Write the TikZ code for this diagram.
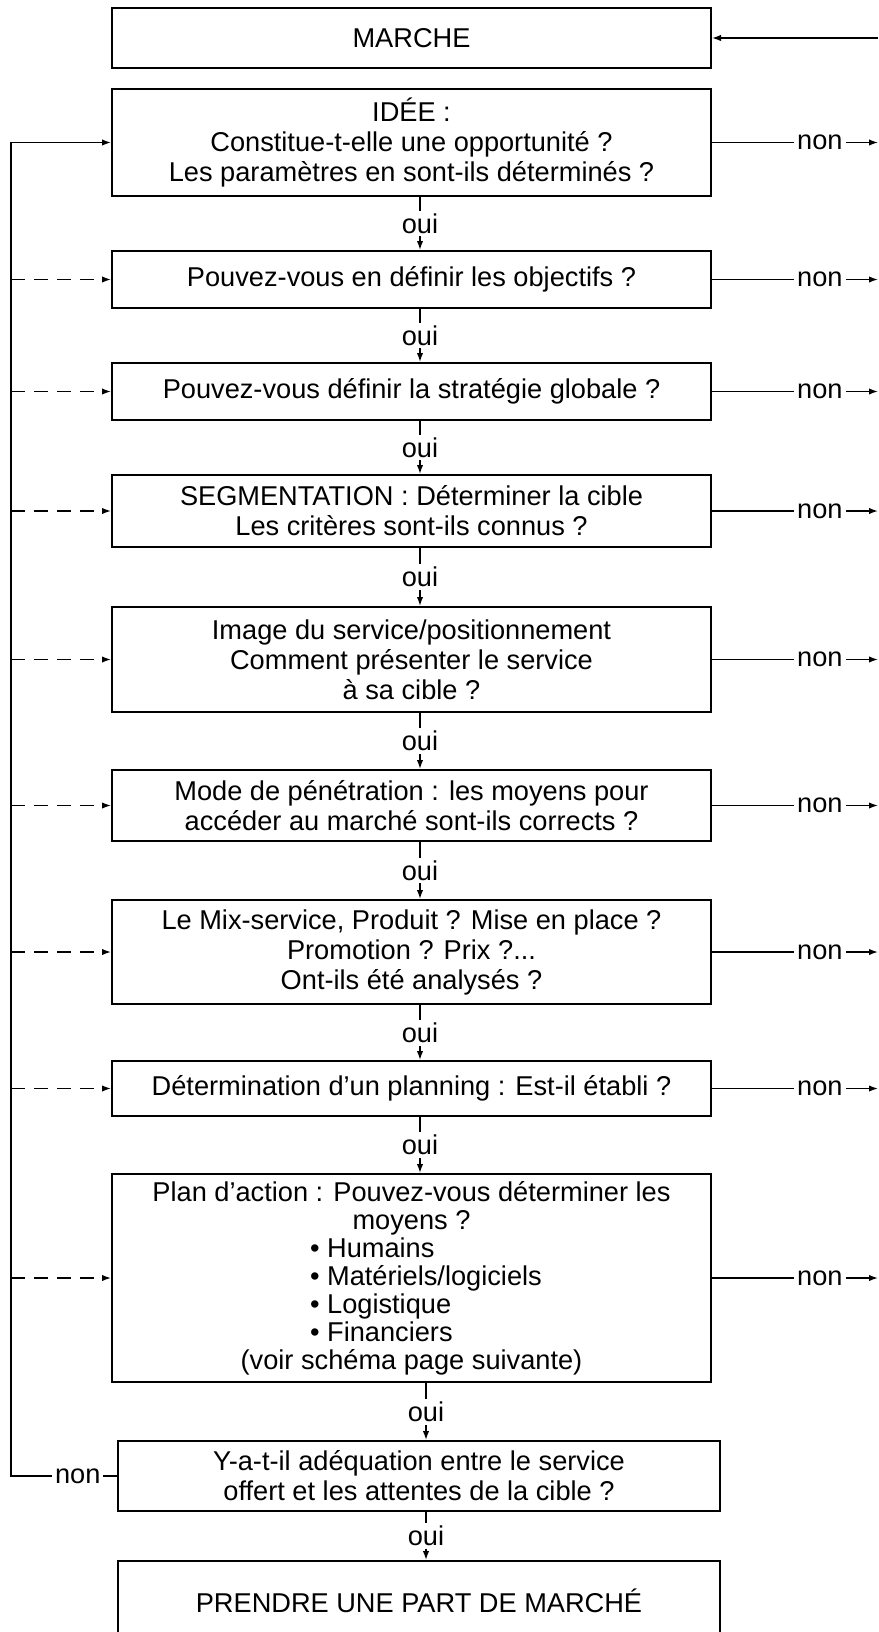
\documentclass[tikz,border=0pt]{standalone}
\usepackage{fontspec}
\setmainfont{Liberation Sans}
\usetikzlibrary{arrows.meta}
\begin{document}
\begin{tikzpicture}[x=0.5pt,y=-0.5pt,
  txt/.style={font=\fontsize{13.6}{15}\selectfont},
  box/.style={txt,draw,line width=1pt,minimum width=299.5pt,inner sep=0pt,align=center},
  flow/.style={line width=0.7pt,-{Latex[length=4.5pt,width=3.2pt]}},
  back/.style={flow,dash pattern=on 7pt off 4.5pt},
  lbl/.style={txt,fill=white,inner sep=1.5pt}]
\useasboundingbox (0,0) rectangle (878,1632);

% side rails and the axis of the "oui" links
\coordinate (L) at (11,0);
\coordinate (R) at (878,0);
\coordinate (A) at (420,0);
\coordinate (B) at (426,0);

% decision boxes
\node[box,minimum height=30pt]   (marche) at (411.5,38)    {MARCHE};
\node[box,minimum height=53.5pt] (idee)   at (411.5,142.5) {IDÉE :\\Constitue-t-elle une opportunité ?\\Les paramètres en sont-ils déterminés ?};
\node[box,minimum height=28.5pt] (obj)    at (411.5,279.5) {Pouvez-vous en définir les objectifs ?};
\node[box,minimum height=28.5pt] (strat)  at (411.5,391.5) {Pouvez-vous définir la stratégie globale ?};
\node[box,minimum height=36pt]   (seg)    at (411.5,511)   {SEGMENTATION : Déterminer la cible\\Les critères sont-ils connus ?};
\node[box,minimum height=52.5pt] (img)    at (411.5,659.5) {Image du service/positionnement\\Comment présenter le service\\à sa cible ?};
\node[box,minimum height=35.5pt] (mode)   at (411.5,805.5) {Mode de pénétration : les moyens pour\\accéder au marché sont-ils corrects ?};
\node[box,minimum height=52pt]   (mix)    at (411.5,952)   {Le Mix-service, Produit ? Mise en place ?\\Promotion ? Prix ?...\\Ont-ils été analysés ?};
\node[box,minimum height=27.5pt] (plan)   at (411.5,1088.5){Détermination d'un planning : Est-il établi ?};
\node[box,minimum height=104pt,font=\fontsize{13.6}{14}\selectfont] (action) at (411.5,1278)
  {Plan d'action : Pouvez-vous déterminer les\\moyens ?\\
  \makebox[116pt][l]{\hspace{7.3pt}• Humains}\\
  \makebox[116pt][l]{\hspace{7.3pt}• Matériels/logiciels}\\
  \makebox[116pt][l]{\hspace{7.3pt}• Logistique}\\
  \makebox[116pt][l]{\hspace{7.3pt}• Financiers}\\
  (voir schéma page suivante)};
\node[box,minimum width=301pt,minimum height=35pt] (adeq) at (419,1476) {Y-a-t-il adéquation entre le service\\offert et les attentes de la cible ?};
\node[box,minimum width=301pt,minimum height=40pt] (prendre) at (419,1601) {PRENDRE UNE PART DE MARCHÉ};

% "oui" links down the main column
\foreach \a/\b in {idee/obj,obj/strat,strat/seg,seg/img,img/mode,mode/mix,mix/plan,plan/action}
  \draw[flow] (\a.south -| A) -- node[lbl]{oui} (\b.north -| A);
\draw[flow] (action.south -| B) -- node[lbl]{oui} (adeq.north -| B);
\draw[flow] (adeq.south -| B) -- node[lbl]{oui} (prendre.north -| B);

% "non" exits to the right
\foreach \n in {idee,obj,strat,seg,img,mode,mix,plan,action}
  \draw[flow] (\n.east) -- node[lbl,pos=0.65]{non} (\n.east -| R);
\draw[flow] (marche.east -| R) -- (marche.east);

% loop back on the left
\draw[flow] (adeq.west) -- node[lbl,pos=0.37]{non} (adeq.west -| L) |- (idee.west);
\foreach \n in {obj,strat,seg,img,mode,mix,plan,action}
  \draw[back] (\n.west -| L) -- (\n.west);
\end{tikzpicture}
\end{document}
